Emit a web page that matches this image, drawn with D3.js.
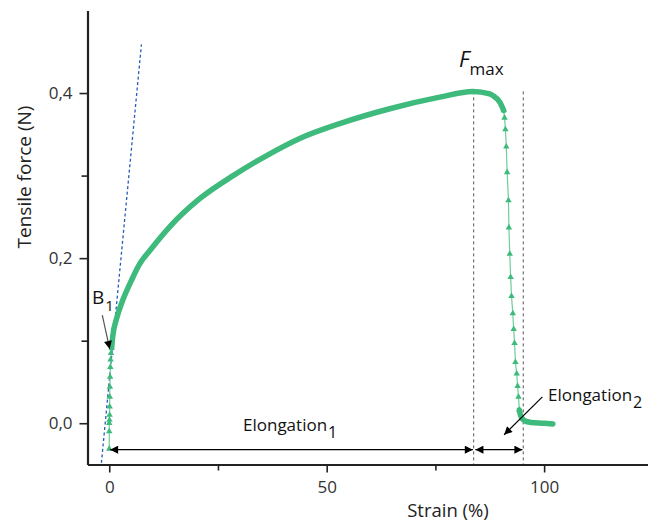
<!DOCTYPE html>
<html>
<head>
<meta charset="utf-8">
<script src="https://cdn.jsdelivr.net/npm/d3@7"></script>
<style>
  html, body { margin: 0; padding: 0; background: #fff; }
  svg { display: block; font-family: "Open Sans", sans-serif; }
</style>
</head>
<body>
<svg id="chart" width="648" height="524"></svg>
<script>
// ---- data ----
const startStrain = [0, 0, 0, 0.05, 0.08, 0.1, 0.12, 0.15, 0.2, 0.25, 0.3, 0.4, 0.55];
const startForce  = [-0.031, -0.010, 0.0, 0.004, 0.010, 0.020, 0.032, 0.044, 0.056, 0.068, 0.077, 0.085, 0.091];

const mainStrain = [0.55, 0.8, 1.7, 3.1, 5.1, 7.0, 9.3, 13.9, 20.8, 28.5, 36.1, 43.8, 53.0, 64.5, 76.0, 83.6, 87.5, 88.2, 89.8, 90.7];
const mainForce  = [0.091, 0.105, 0.127, 0.149, 0.173, 0.193, 0.209, 0.238, 0.272, 0.300, 0.324, 0.345, 0.363, 0.381, 0.395, 0.402, 0.399, 0.397, 0.389, 0.379];

const dropStrain = [90.7, 90.9, 91.1, 91.3, 91.5, 91.8, 91.9, 92.1, 92.3, 92.5, 92.8, 93.0, 93.2, 93.4, 93.7, 93.9, 94.1, 94.3];
const dropForce  = [0.379, 0.370, 0.356, 0.335, 0.304, 0.270, 0.237, 0.205, 0.177, 0.154, 0.133, 0.114, 0.097, 0.074, 0.060, 0.045, 0.032, 0.016];

const tailStrain = [94.3, 94.5, 94.8, 95.5, 97.0, 100.0, 102.0];
const tailForce  = [0.016, 0.011, 0.007, 0.003, 0.001, 0.0, -0.001];

const tangentStrain = [-1.8, 7.4];
const tangentForce  = [-0.048, 0.459];

const xMajorTicks = [0, 50, 100];
const xMajorLabels = ["0", "50", "100"];
const xMinorTicks = [25, 75];
const yMajorTicks = [0.0, 0.2, 0.4];
const yMajorLabels = ["0,0", "0,2", "0,4"];
const yMinorTicks = [0.1, 0.3];

const fmaxStrain = 83.8;
const breakStrain = 95.2;
const guideTop = 0.402;
const elongY = -0.032;

// ---- scales ----
const svg = d3.select("#chart");
const x = d3.scaleLinear().domain([-5, 124]).range([87.5, 648.5]);
const y = d3.scaleLinear().domain([-0.05, 0.5]).range([464.5, 10.5]);

const green = "#3dba7c";
const toPts = (xs, ys) => xs.map((v, i) => [v, ys[i]]);

const defs = svg.append("defs");
defs.append("marker").attr("id", "ah").attr("viewBox", "0 0 10 10")
  .attr("refX", 10).attr("refY", 5).attr("markerWidth", 11).attr("markerHeight", 8)
  .attr("markerUnits", "userSpaceOnUse").attr("orient", "auto-start-reverse")
  .append("path").attr("d", "M0,0 L10,5 L0,10 Z").attr("fill", "#000");

// ---- guides ----
[fmaxStrain, breakStrain].forEach(s => {
  svg.append("line")
    .attr("x1", x(s)).attr("x2", x(s))
    .attr("y1", y(guideTop)).attr("y2", y(-0.05))
    .attr("stroke", "#555").attr("stroke-width", 1).attr("stroke-dasharray", "3,3");
});

// tangent line
svg.append("path")
  .datum(toPts(tangentStrain, tangentForce))
  .attr("d", d3.line().x(d => x(d[0])).y(d => y(d[1])))
  .attr("stroke", "#2a5cb5").attr("stroke-width", 1.3).attr("stroke-dasharray", "3,2.5").attr("fill", "none");

// ---- data series ----
const lineGen = d3.line().x(d => x(d[0])).y(d => y(d[1]));
const curveGen = d3.line().x(d => x(d[0])).y(d => y(d[1])).curve(d3.curveMonotoneX);

// thin connector lines
[toPts(startStrain, startForce), toPts(dropStrain, dropForce)].forEach(pts => {
  svg.append("path").datum(pts).attr("d", lineGen)
    .attr("stroke", "#6fcc9c").attr("stroke-width", 1.2).attr("fill", "none");
});

// thick dense segments
[toPts(mainStrain, mainForce), toPts(tailStrain, tailForce)].forEach(pts => {
  svg.append("path").datum(pts).attr("d", curveGen)
    .attr("stroke", green).attr("stroke-width", 5.5).attr("fill", "none")
    .attr("stroke-linecap", "round").attr("stroke-linejoin", "round");
});

// triangle markers
const tri = d3.symbol().type(d3.symbolTriangle).size(18);
svg.append("g").selectAll("path")
  .data(toPts(startStrain, startForce).concat(toPts(dropStrain, dropForce)))
  .join("path")
  .attr("d", tri)
  .attr("transform", d => `translate(${x(d[0])},${y(d[1])})`)
  .attr("fill", green);

// ---- axes ----
const axisColor = "#222";
svg.append("g").attr("transform", `translate(0,${y(-0.05)})`)
  .call(d3.axisBottom(x).tickValues(xMajorTicks).tickFormat((d, i) => xMajorLabels[i]).tickSize(8).tickSizeOuter(0).tickPadding(8));
svg.append("g").attr("transform", `translate(0,${y(-0.05)})`)
  .call(d3.axisBottom(x).tickValues(xMinorTicks).tickFormat("").tickSize(6).tickSizeOuter(0))
  .select(".domain").remove();
svg.append("g").attr("transform", `translate(${x(-5)},0)`)
  .call(d3.axisLeft(y).tickValues(yMajorTicks).tickFormat((d, i) => yMajorLabels[i]).tickSize(8).tickSizeOuter(0).tickPadding(7));
svg.append("g").attr("transform", `translate(${x(-5)},0)`)
  .call(d3.axisLeft(y).tickValues(yMinorTicks).tickFormat("").tickSize(6).tickSizeOuter(0))
  .select(".domain").remove();

svg.selectAll(".domain").attr("stroke", axisColor).attr("stroke-width", 2.2);
svg.selectAll(".tick line").attr("stroke", axisColor).attr("stroke-width", 1.6);
svg.selectAll(".tick text").attr("font-size", 17).attr("fill", "#333").attr("font-family", "'Open Sans', sans-serif");

// axis titles
svg.append("text").attr("x", 448).attr("y", 517).attr("text-anchor", "middle")
  .attr("font-size", 18.5).attr("fill", "#222").text("Strain (%)");
svg.append("text").attr("transform", "translate(31,177) rotate(-90)").attr("text-anchor", "middle")
  .attr("font-size", 19).attr("fill", "#222").text("Tensile force (N)");

// ---- annotations ----
function arrow(x1, y1, x2, y2, both, color) {
  const l = svg.append("line")
    .attr("x1", x(x1)).attr("y1", y(y1)).attr("x2", x(x2)).attr("y2", y(y2))
    .attr("stroke", color || "#000").attr("stroke-width", 1.2)
    .attr("marker-end", "url(#ah)");
  if (both) l.attr("marker-start", "url(#ah)");
}
arrow(0.2, elongY, fmaxStrain - 0.2, elongY, true);
arrow(fmaxStrain + 0.4, elongY, breakStrain - 0.2, elongY, true);
arrow(99.6, 0.032, 90.8, -0.014, false);
arrow(-1.6, 0.131, 0.1, 0.090, false, "#555");

function subLabel(px, py, main, sub, size, subSize, italic, dx) {
  const t = svg.append("text").attr("x", px).attr("y", py).attr("fill", "#111").attr("font-size", size);
  const m = t.append("tspan").text(main);
  if (italic) m.attr("font-style", "italic");
  t.append("tspan").attr("dy", subSize * 0.45).attr("font-size", subSize).attr("dx", dx).text(sub);
}
subLabel(243, 431, "Elongation", "1", 17, 16, false, 1);
subLabel(548, 401, "Elongation", "2", 17, 16, false, 1);
subLabel(92, 304, "B", "1", 19, 15, false, 1);
subLabel(459, 67, "F", "max", 22, 17, true, 0);
</script>
</body>
</html>
